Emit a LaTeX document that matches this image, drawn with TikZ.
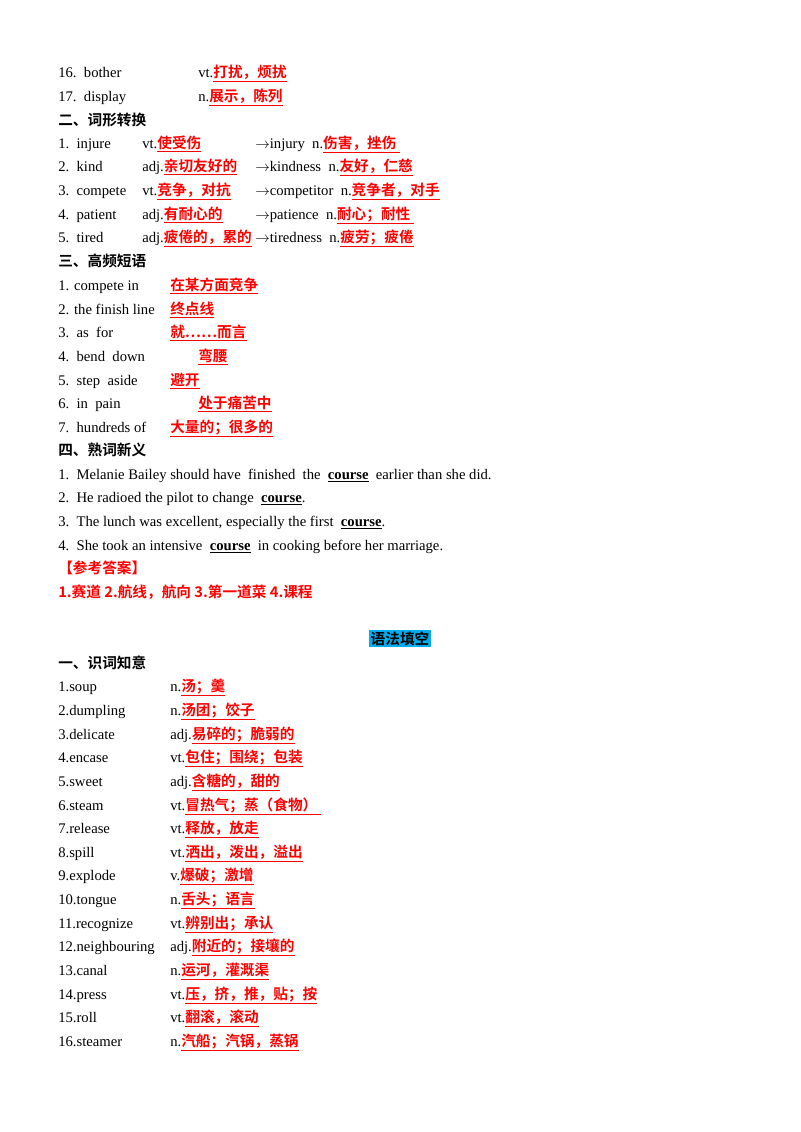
\documentclass[tikz,border=0pt]{standalone}
\usepackage{fontspec}
\setmainfont{Liberation Serif}
\newfontfamily\cjk{Noto Sans CJK SC}
\newfontfamily\cjkb{Noto Sans CJK SC Bold}
\newcommand{\ans}[1]{{\color{red}\cjkb\underline{#1}}}
\newcommand{\ansb}[1]{{\color{red}\cjkb #1}}
\newcommand{\hd}[1]{{\cjkb #1}}
\tikzset{t/.style={anchor=base west,inner sep=0pt,font=\fontsize{11pt}{12pt}\selectfont}}
\begin{document}
\begin{tikzpicture}[x=0.75pt,y=-0.75pt]
\useasboundingbox (0,0) rectangle (800,1132);
% top
\node[t] (a1) at (58,77) {16.\ \ bother};\node[t] (b1) at (198,77) {vt.\ans{打扰，烦扰}};
\node[t] (a2) at (58,101) {17.\ \ display};\node[t] (b2) at (198,101) {n.\ans{展示，陈列}};
\node[t] (h2) at (58,125) {\hd{二、词形转换}};
\node[t] at (58,148) {1.\ \ injure};\node[t] at (142,148) {vt.\ans{使受伤}};\node[t] at (255,148) {$\to$injury\ \ n.\ans{伤害，挫伤\ }};
\node[t] at (58,171) {2.\ \ kind};\node[t] at (142,171) {adj.\ans{亲切友好的}};\node[t] at (255,171) {$\to$kindness\ \ n.\ans{友好，仁慈}};
\node[t] at (58,195) {3.\ \ compete};\node[t] at (142,195) {vt.\ans{竞争，对抗}};\node[t] at (255,195) {$\to$competitor\ \ n.\ans{竞争者，对手}};
\node[t] at (58,219) {4.\ \ patient};\node[t] at (142,219) {adj.\ans{有耐心的}};\node[t] at (255,219) {$\to$patience\ \ n.\ans{耐心；耐性\ }};
\node[t] at (58,242) {5.\ \ tired};\node[t] at (142,242) {adj.\ans{疲倦的，累的}};\node[t] at (255,242) {$\to$tiredness\ \ n.\ans{疲劳；疲倦}};
\node[t] (h3) at (58,266) {\hd{三、高频短语}};
\node[t] at (58,290) {1. compete in};\node[t] at (170,290) {\ans{在某方面竞争}};
\node[t] at (58,314) {2. the finish line};\node[t] at (170,314) {\ans{终点线}};
\node[t] at (58,337) {3.\ \ as\ \ for};\node[t] at (170,337) {\ans{就……而言}};
\node[t] at (58,361) {4.\ \ bend\ \ down};\node[t] at (198,361) {\ans{弯腰}};
\node[t] at (58,385) {5.\ \ step\ \ aside};\node[t] at (170,385) {\ans{避开}};
\node[t] at (58,408) {6.\ \ in\ \ pain};\node[t] at (198,408) {\ans{处于痛苦中}};
\node[t] at (58,432) {7.\ \ hundreds of};\node[t] at (170,432) {\ans{大量的；很多的}};
\node[t] (h4) at (58,455) {\hd{四、熟词新义}};
\node[t] at (58,479) {1.\ \ Melanie Bailey should have\ \ finished\ \ the\ \ \textbf{\underline{course}}\ \ earlier than she did.};
\node[t] at (58,502) {2.\ \ He radioed the pilot to change\ \ \textbf{\underline{course}}.};
\node[t] at (58,526) {3.\ \ The lunch was excellent, especially the first\ \ \textbf{\underline{course}}.};
\node[t] at (58,550) {4.\ \ She took an intensive\ \ \textbf{\underline{course}}\ \ in cooking before her marriage.};
\node[t] (ck) at (58,573) {\ansb{【参考答案】}};
\node[t] (ans) at (58,597) {\ansb{1.赛道\ 2.航线，航向\ 3.第一道菜\ 4.课程}};
\node[anchor=base,inner sep=1pt,fill=cyan,font=\fontsize{11pt}{12pt}\selectfont] (yf) at (400,644) {\hd{语法填空}};
\node[t] (h5) at (58,668) {\hd{一、识词知意}};
\foreach \y/\w/\d in {
691/1.soup/{n.\ans{汤；羹}},
715/2.dumpling/{n.\ans{汤团；饺子}},
739/3.delicate/{adj.\ans{易碎的；脆弱的}},
762/4.encase/{vt.\ans{包住；围绕；包装}},
786/5.sweet/{adj.\ans{含糖的，甜的}},
810/6.steam/{vt.\ans{冒热气；蒸（食物）\ }},
833/7.release/{vt.\ans{释放，放走}},
857/8.spill/{vt.\ans{洒出，泼出，溢出}},
880/9.explode/{v.\ans{爆破；激增}},
904/10.tongue/{n.\ans{舌头；语言}},
928/11.recognize/{vt.\ans{辨别出；承认}},
951/12.neighbouring/{adj.\ans{附近的；接壤的}},
975/13.canal/{n.\ans{运河，灌溉渠}},
999/14.press/{vt.\ans{压，挤，推，贴；按}},
1022/15.roll/{vt.\ans{翻滚，滚动}},
1046/16.steamer/{n.\ans{汽船；汽锅，蒸锅}}}
{\node[t] at (58,\y) {\w};\node[t] at (170,\y) {\d};}
\end{tikzpicture}
\end{document}
